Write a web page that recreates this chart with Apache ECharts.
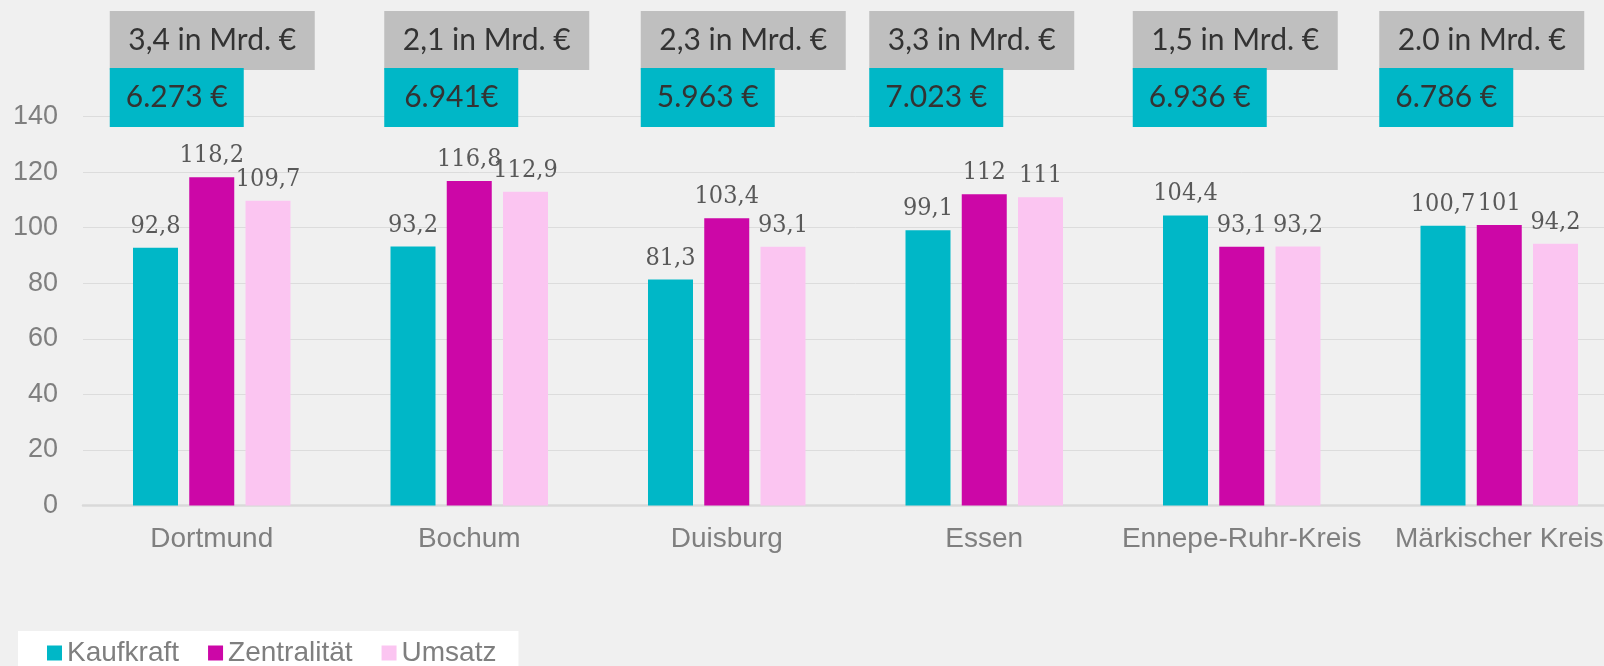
<!DOCTYPE html>
<html>
<head>
<meta charset="utf-8">
<script src="https://cdn.jsdelivr.net/npm/echarts@6/dist/echarts.min.js"></script>
<style>
html,body{margin:0;padding:0;background:#f0f0f0;overflow:hidden;width:1604px;height:666px;}
#chart{width:1632px;height:666px;}
</style>
</head>
<body>
<div id="chart"></div>
<script>
// ---- data ----
const categories = ['Dortmund', 'Bochum', 'Duisburg', 'Essen', 'Ennepe-Ruhr-Kreis', 'Märkischer Kreis'];
const kaufkraft  = [92.8, 93.2, 81.3, 99.1, 104.4, 100.7];
const zentralitaet = [118.2, 116.8, 103.4, 112, 93.1, 101];
const umsatz     = [109.7, 112.9, 93.1, 111, 93.2, 94.2];
const umsatzMrd  = ['3,4 in Mrd. €', '2,1 in Mrd. €', '2,3 in Mrd. €', '3,3 in Mrd. €', '1,5 in Mrd. €', '2.0 in Mrd. €'];
const kaufkraftProKopf = ['6.273 €', '6.941€', '5.963 €', '7.023 €', '6.936 €', '6.786 €'];
const yTicks = [0, 20, 40, 60, 80, 100, 120, 140];

// ---- styling / layout (not data) ----
const boxShiftX = [-102, -85, -86, -115, -109, -120];
const colors = ['#00B7C7', '#CC07A7', '#FBC5F1'];

const chart = echarts.init(document.getElementById('chart'), null, {renderer: 'canvas'});
const labelCfg = {
  show: true, position: 'top', distance: 9,
  color: '#595959', fontFamily: '"DejaVu Serif Condensed", "DejaVu Serif", serif', fontSize: 25,
  formatter: p => String(p.value).replace('.', ',')
};
const mkSeries = (name, data, i) => ({
  name, type: 'bar', data, barWidth: 45, barGap: '25%',
  itemStyle: {color: colors[i]}, label: labelCfg
});

chart.setOption({
  backgroundColor: '#f0f0f0',
  animation: false,
  grid: {left: 83, top: 116.6, width: 1545, bottom: 160.6, containLabel: false},
  legend: {
    left: 18, top: 631,
    padding: [8, 22, 10, 29],
    backgroundColor: '#ffffff',
    icon: 'rect', itemWidth: 15, itemHeight: 15, itemGap: 29,
    textStyle: {color: '#7f7f7f', fontFamily: 'Liberation Sans', fontSize: 28},
    data: ['Kaufkraft', 'Zentralität', 'Umsatz']
  },
  xAxis: {
    type: 'category', data: categories,
    axisTick: {show: false},
    axisLine: {lineStyle: {color: '#d9d9d9', width: 2.5}},
    axisLabel: {color: '#7f7f7f', fontFamily: 'Liberation Sans', fontSize: 28, margin: 19, lineHeight: 30, interval: 0}
  },
  yAxis: {
    type: 'value', min: yTicks[0], max: yTicks[yTicks.length - 1], interval: 20,
    axisLine: {show: false}, axisTick: {show: false},
    splitLine: {lineStyle: {color: '#dcdcdc', width: 1}},
    axisLabel: {color: '#7f7f7f', fontFamily: 'Liberation Sans', fontSize: 27, margin: 25}
  },
  series: [
    mkSeries('Kaufkraft', kaufkraft, 0),
    mkSeries('Zentralität', zentralitaet, 1),
    mkSeries('Umsatz', umsatz, 2)
  ]
});

// annotation boxes above each category
const grayEls = [], tealEls = [];
categories.forEach((c, i) => {
  const cx = chart.convertToPixel({xAxisIndex: 0}, c);
  const left = cx + boxShiftX[i];
  const gw = 205, gh = 59, gy = 11;
  const tw = 134, th = 59, ty = 68;
  grayEls.push({type: 'rect', shape: {x: left, y: gy, width: gw, height: gh}, style: {fill: '#bfbfbf'}, z: 10});
  grayEls.push({type: 'text', x: left + gw / 2, y: gy + gh / 2, style: {text: umsatzMrd[i], fill: '#333333', font: '30px Lato', align: 'center', verticalAlign: 'middle'}, z: 11});
  tealEls.push({type: 'rect', shape: {x: left, y: ty, width: tw, height: th}, style: {fill: '#00B7C7'}, z: 12});
  tealEls.push({type: 'text', x: left + tw / 2, y: ty + th / 2, style: {text: kaufkraftProKopf[i], fill: '#333333', font: '30px Lato', align: 'center', verticalAlign: 'middle'}, z: 13});
});
chart.setOption({graphic: grayEls.concat(tealEls)});
</script>
</body>
</html>
